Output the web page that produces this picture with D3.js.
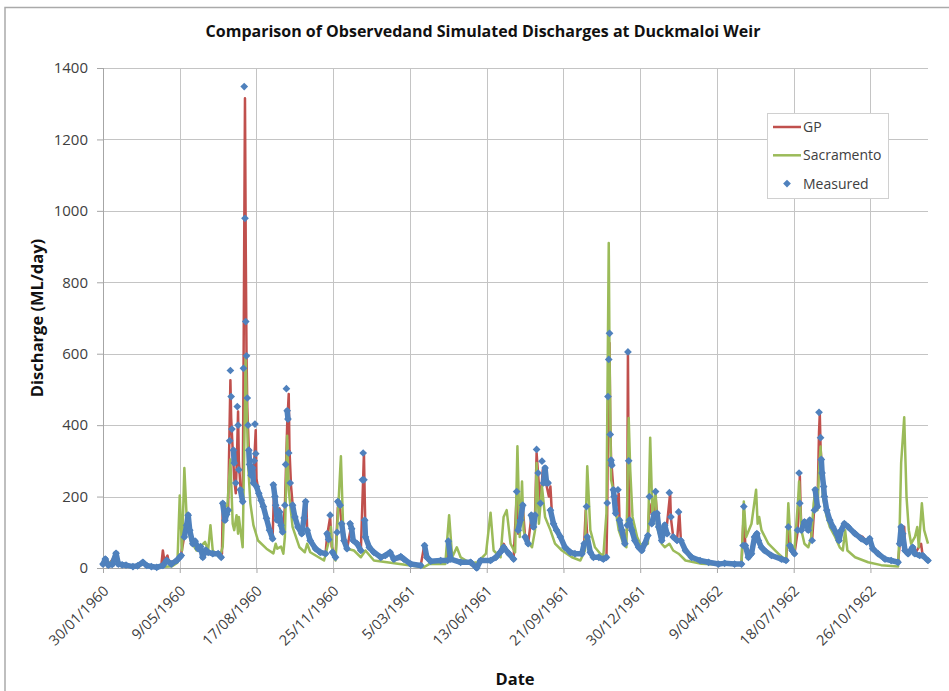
<!DOCTYPE html>
<html lang="en">
<head>
<meta charset="utf-8">
<title>Duckmaloi Weir</title>
<style>
  body { margin: 0; background: #fff; }
  svg { display: block; font-family: "Open Sans", sans-serif; }
  .grid line { stroke: #c4c4c4; stroke-width: 1px; }
  .axis path, .axis line { stroke: #a6a6a6; }
  .axis text { fill: #404040; font-size: 15px; font-family: "Open Sans", sans-serif; }
  .ttl { font-weight: bold; fill: #111; }
</style>
</head>
<body>
<div id="chart"></div>
<script src="https://cdn.jsdelivr.net/npm/d3@7"></script>
<script>
// data: [day since 30/01/1960, discharge ML/day]
var measured = [
  [0,11],[3,25],[7,8],[12,10],[17,41],[20,11],[25,9],[30,8],[39,4],[45,6],[52,16],[57,7],[63,4],[70,2],[78,7],[83,21],[89,11],[96,21],
  [100,30],[102,35],[106,87],[109,120],[111,148],[113,106],[117,68],[120,75],[124,54],[127,60],[130,30],[134,50],[137,44],[143,40],[150,40],
  [154,30],[156,181],[159,134],[161,150],[163,162],[165,356],[166,553],[167,480],[168,389],[170,330],[171,294],[173,238],[175,452],[176,400],
  [177,275],[179,219],[182,186],[183,559],[184,1348],[185,979],[186,690],[187,594],[188,476],[189,400],[190,330],[191,290],[193,260],[195,280],
  [196,238],[197,300],[198,403],[199,320],[200,228],[203,209],[206,190],[209,172],[213,139],[217,106],[221,82],[222,233],[224,200],[225,176],
  [227,134],[230,157],[232,120],[234,101],[237,176],[238,290],[239,502],[240,440],[241,417],[242,322],[244,238],[247,176],[250,143],[254,115],
  [259,96],[262,140],[264,186],[266,106],[270,77],[277,54],[283,44],[290,40],[292,96],[294,80],[296,148],[299,44],[303,30],[305,100],[306,186],
  [309,176],[311,124],[314,77],[318,54],[322,124],[324,110],[326,77],[331,68],[336,49],[338,247],[339,322],[340,247],[341,134],[342,87],[347,58],
  [353,44],[362,30],[368,35],[374,44],[379,25],[388,32],[392,25],[401,11],[414,7],[419,63],[422,30],[427,19],[440,21],[449,21],[450,75],[453,25],
  [466,16],[479,16],[487,0],[492,21],[505,21],[512,30],[518,45],[522,58],[529,40],[535,25],[539,214],[541,106],[544,134],[547,176],[550,87],
  [554,68],[558,148],[561,115],[563,148],[565,332],[567,266],[570,181],[572,299],[574,238],[576,280],[578,238],[580,238],[583,162],[587,124],
  [591,106],[596,87],[602,58],[609,44],[615,40],[624,40],[627,68],[630,172],[631,87],[635,44],[639,30],[646,30],[652,25],[656,30],[657,182],
  [658,480],[659,584],[660,657],[661,374],[662,302],[663,288],[665,219],[666,200],[668,153],[671,219],[673,134],[676,106],[680,68],[683,120],
  [684,605],[685,300],[686,134],[689,106],[693,77],[698,58],[702,49],[706,68],[710,91],[712,200],[715,124],[718,150],[720,214],[722,153],
  [724,115],[728,77],[732,120],[735,96],[738,211],[740,143],[743,87],[748,77],[750,157],[753,77],[759,49],[767,30],[778,21],[789,16],[802,11],
  [810,13],[823,11],[832,11],[834,63],[835,172],[837,63],[841,30],[845,40],[849,87],[852,96],[854,77],[858,58],[862,49],[871,35],[884,25],
  [890,21],[893,115],[895,63],[898,49],[901,40],[905,106],[907,266],[908,181],[910,106],[914,129],[917,124],[919,106],[921,134],[924,77],
  [927,162],[928,219],[931,172],[933,436],[935,365],[936,304],[937,266],[939,228],[940,200],[943,162],[947,134],[951,115],[956,96],[959,77],
  [962,106],[966,124],[971,115],[980,96],[988,82],[995,73],[999,82],[1003,54],[1010,40],[1019,25],[1027,21],[1036,16],[1038,68],[1040,115],
  [1042,96],[1045,49],[1049,40],[1055,58],[1058,40],[1064,35],[1068,35],[1075,21]
];

var gp = [
  [0,10],[3,22],[7,8],[17,38],[20,10],[30,8],[39,5],[52,14],[60,6],[70,4],[76,8],[78,49],[80,20],[84,35],[86,15],[96,22],[102,40],[106,90],
  [111,130],[113,100],[117,70],[124,55],[130,35],[137,45],[150,42],[155,40],[156,170],[159,130],[163,160],[166,526],[167,420],[169,330],
  [171,250],[173,209],[175,350],[176,438],[177,300],[179,230],[182,190],[183,500],[185,1315],[186,900],[187,600],[188,450],[190,330],[193,270],
  [196,250],[199,386],[200,250],[203,210],[209,170],[213,140],[217,106],[221,85],[223,223],[225,170],[227,130],[230,167],[234,100],[237,170],
  [240,400],[242,487],[243,330],[245,230],[247,180],[250,145],[254,115],[259,96],[262,150],[265,176],[266,110],[270,77],[277,54],[283,44],
  [290,40],[292,90],[296,143],[298,60],[303,30],[306,170],[309,165],[311,120],[314,77],[318,54],[322,100],[324,124],[326,80],[331,68],[336,49],
  [339,250],[340,322],[341,200],[342,100],[347,58],[353,44],[362,30],[374,42],[379,25],[392,25],[401,11],[414,7],[419,68],[422,30],[427,19],
  [449,21],[450,70],[453,25],[479,16],[487,2],[492,21],[505,21],[512,30],[522,68],[529,40],[535,25],[539,200],[541,96],[544,130],[547,170],
  [550,87],[554,68],[558,140],[561,115],[563,150],[565,322],[567,260],[570,181],[573,275],[576,260],[578,230],[581,200],[583,228],[585,150],
  [587,124],[591,106],[596,87],[602,58],[609,44],[615,40],[624,40],[627,68],[629,162],[631,87],[635,44],[639,30],[652,25],[656,30],[657,150],
  [658,420],[659,600],[660,630],[661,400],[662,310],[663,280],[665,220],[668,160],[672,209],[673,140],[676,106],[680,68],[683,110],[684,605],
  [685,250],[686,134],[689,106],[693,77],[698,58],[702,49],[706,68],[710,91],[712,180],[715,153],[718,140],[720,200],[722,150],[724,115],
  [728,77],[732,110],[735,124],[739,209],[740,140],[743,87],[748,77],[751,157],[753,77],[759,49],[767,30],[778,21],[789,16],[802,11],[832,11],
  [835,160],[837,60],[845,40],[849,80],[850,87],[854,77],[858,58],[871,35],[890,21],[893,110],[895,60],[901,40],[905,100],[908,257],[909,170],
  [910,106],[914,129],[921,134],[924,77],[928,210],[931,172],[933,380],[934,431],[935,340],[937,266],[940,200],[943,162],[947,134],[951,115],
  [956,96],[962,106],[966,124],[971,115],[980,96],[990,87],[995,73],[999,82],[1003,54],[1010,40],[1019,25],[1036,16],[1040,110],[1044,115],
  [1045,60],[1049,40],[1055,58],[1058,40],[1066,68],[1068,35],[1075,21]
];

var sacramento = [
  [0,8],[5,10],[17,25],[25,6],[40,3],[52,10],[70,2],[90,5],[97,15],[100,203],[103,49],[106,280],[109,143],[114,77],[122,49],[133,73],[137,49],
  [140,120],[143,49],[152,30],[156,60],[158,176],[162,172],[166,304],[169,124],[171,106],[174,148],[176,96],[177,143],[182,58],[186,596],
  [187,483],[189,294],[192,181],[196,120],[202,77],[213,54],[222,41],[225,68],[227,54],[232,60],[235,40],[237,87],[240,370],[242,219],[247,115],
  [256,58],[263,44],[266,68],[270,44],[288,21],[296,90],[297,115],[299,40],[303,21],[310,313],[313,106],[318,54],[327,49],[336,30],[342,49],
  [353,21],[370,16],[401,7],[418,2],[425,11],[446,11],[451,148],[455,30],[461,58],[466,30],[479,13],[488,16],[499,40],[505,155],[509,49],
  [518,30],[522,143],[526,162],[531,68],[537,44],[540,341],[543,87],[546,242],[548,106],[552,77],[559,58],[563,106],[565,294],[568,124],
  [572,228],[576,143],[583,106],[589,68],[598,49],[611,30],[622,21],[628,49],[631,285],[635,106],[641,58],[648,40],[652,35],[656,153],
  [659,910],[660,600],[662,247],[665,219],[668,162],[672,106],[678,68],[682,58],[685,420],[687,275],[690,143],[696,87],[702,58],[710,68],
  [713,365],[716,143],[720,219],[722,115],[728,68],[732,58],[738,68],[743,49],[750,40],[759,21],[780,12],[800,10],[832,11],[835,186],[838,87],
  [845,124],[851,219],[853,124],[855,143],[858,106],[867,68],[880,40],[890,21],[893,181],[896,68],[901,49],[906,200],[907,242],[910,106],
  [914,68],[919,58],[923,87],[926,181],[928,214],[931,162],[933,275],[935,340],[938,200],[943,143],[947,115],[954,87],[960,58],[964,49],
  [967,106],[970,49],[980,30],[997,16],[1014,8],[1036,4],[1038,106],[1040,294],[1044,422],[1047,200],[1050,106],[1053,68],[1058,87],
  [1061,115],[1063,58],[1067,181],[1070,106],[1075,68]
];

var xTickLabels = ["30/01/1960", "9/05/1960", "17/08/1960", "25/11/1960", "5/03/1961", "13/06/1961",
  "21/09/1961", "30/12/1961", "9/04/1962", "18/07/1962", "26/10/1962"];
var yTicks = [0, 200, 400, 600, 800, 1000, 1200, 1400];
var seriesNames = ["GP", "Sacramento", "Measured"];
var seriesColors = ["#c0504d", "#9bbb59", "#4f81bd"];

var width = 949, height = 691;
var margin = { top: 68, right: 21, bottom: 123, left: 103 };
var w = width - margin.left - margin.right,
    h = height - margin.top - margin.bottom;

var parse = d3.timeParse("%d/%m/%Y");
var start = parse("30/01/1960");
var toDate = function (d) { return d3.timeDay.offset(start, d); };

var svg = d3.select("#chart").append("svg")
  .attr("width", width)
  .attr("height", height);

// outer chart frame
svg.append("rect")
  .attr("x", 5).attr("y", 7.5)
  .attr("width", 960).attr("height", 720)
  .attr("fill", "none")
  .attr("stroke", "#aaa")
  .attr("stroke-width", 1.5);

var x = d3.scaleTime()
  .domain([start, toDate(1075)])
  .range([0, w]);
var y = d3.scaleLinear()
  .domain([0, 1400])
  .range([h, 0]);

var xTicks = xTickLabels.map(parse);

var g = svg.append("g").attr("transform", "translate(" + margin.left + "," + margin.top + ")");

// gridlines
var grid = g.append("g").attr("class", "grid");
grid.selectAll(".hg").data(yTicks).enter().append("line")
  .attr("x1", 0).attr("x2", w)
  .attr("y1", function (d) { return Math.round(y(d)) + 0.5; })
  .attr("y2", function (d) { return Math.round(y(d)) + 0.5; });
grid.selectAll(".vg").data(xTicks).enter().append("line")
  .attr("y1", 0).attr("y2", h)
  .attr("x1", function (d) { return Math.round(x(d)) + 0.5; })
  .attr("x2", function (d) { return Math.round(x(d)) + 0.5; });

// axes
var yAxis = g.append("g").attr("class", "axis")
  .call(d3.axisLeft(y).tickValues(yTicks).tickFormat(d3.format("d")).tickSize(6).tickPadding(9));
yAxis.select(".domain").remove();
yAxis.append("line").attr("x1", 0.5).attr("x2", 0.5).attr("y1", 0).attr("y2", h).attr("stroke", "#a6a6a6");

var xAxis = g.append("g").attr("class", "axis")
  .attr("transform", "translate(0," + h + ")")
  .call(d3.axisBottom(x).tickValues(xTicks).tickFormat(d3.timeFormat("%-d/%m/%Y")).tickSize(5).tickSizeOuter(0));
xAxis.selectAll("text")
  .attr("y", 0).attr("dy", "0")
  .style("font-size", "14.5px")
  .attr("text-anchor", "end")
  .attr("transform", "translate(6,24) rotate(-45)");

// series
var line = d3.line()
  .x(function (d) { return x(toDate(d[0])); })
  .y(function (d) { return y(d[1]); });

g.append("path").datum(gp)
  .attr("fill", "none").attr("stroke", seriesColors[0])
  .attr("stroke-width", 2.5).attr("stroke-linejoin", "round")
  .attr("d", line);

g.append("path").datum(sacramento)
  .attr("fill", "none").attr("stroke", seriesColors[1])
  .attr("stroke-width", 2.5).attr("stroke-linejoin", "round")
  .attr("d", line);

// measured: daily markers merge into a band on slow recessions,
// but stay separate dots on the fast rises
var band = d3.pairs(measured).filter(function (p) { return Math.abs(p[1][1] - p[0][1]) <= 50; });
g.selectAll(".band").data(band).enter().append("path")
  .attr("class", "band")
  .attr("fill", "none").attr("stroke", seriesColors[2])
  .attr("stroke-width", 5.5).attr("stroke-linecap", "round")
  .attr("d", line);

var diamond = d3.symbol().type(d3.symbolSquare).size(30);
g.selectAll(".pt").data(measured).enter().append("path")
  .attr("class", "pt")
  .attr("d", diamond)
  .attr("fill", seriesColors[2])
  .attr("transform", function (d) { return "translate(" + x(toDate(d[0])) + "," + y(d[1]) + ") rotate(45)"; });

// titles
svg.append("text").attr("class", "ttl")
  .attr("x", 483).attr("y", 37)
  .attr("text-anchor", "middle")
  .style("font-size", "16px")
  .text("Comparison of Observedand Simulated Discharges at Duckmaloi Weir");

svg.append("text").attr("class", "ttl")
  .attr("transform", "translate(43,318) rotate(-90)")
  .attr("text-anchor", "middle")
  .style("font-size", "16.5px")
  .text("Discharge (ML/day)");

svg.append("text").attr("class", "ttl")
  .attr("x", 515).attr("y", 685)
  .attr("text-anchor", "middle")
  .style("font-size", "16.5px")
  .text("Date");

// legend
var lg = svg.append("g").attr("transform", "translate(767,113)");
lg.append("rect")
  .attr("x", 0.5).attr("y", 0.5).attr("width", 121).attr("height", 85)
  .attr("fill", "#fff").attr("stroke", "#d0d0d0");

var items = lg.selectAll(".item").data(seriesNames).enter().append("g")
  .attr("transform", function (d, i) { return "translate(0," + (14 + i * 28.3) + ")"; });

items.filter(function (d, i) { return i < 2; }).append("line")
  .attr("x1", 6).attr("x2", 34).attr("y1", 0).attr("y2", 0)
  .attr("stroke", function (d, i) { return seriesColors[i]; })
  .attr("stroke-width", 2.5);

items.filter(function (d, i) { return i === 2; }).append("path")
  .attr("d", diamond)
  .attr("fill", seriesColors[2])
  .attr("transform", "translate(20,0) rotate(45)");

items.append("text")
  .attr("x", 36).attr("y", 0).attr("dy", "0.35em")
  .attr("font-size", 14).attr("fill", "#404040")
  .text(function (d) { return d; });
</script>
</body>
</html>
